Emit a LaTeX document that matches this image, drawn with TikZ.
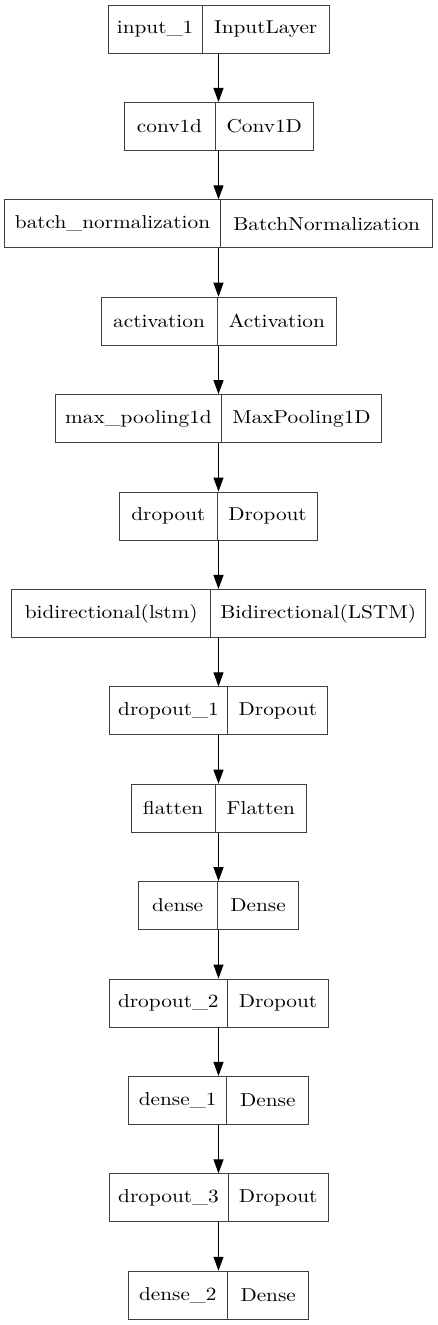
\documentclass[tikz,border=0pt]{standalone}
\usepackage{fontspec}
\usepackage{tikz}
\usetikzlibrary{positioning,arrows.meta}
\newfontfamily\layerfont{lmroman10-regular.otf}[FakeStretch=1.14]
\tikzstyle{record} = [rectangle, minimum height=36pt, inner sep=0pt, draw=black!75, line width=0.7pt]
\tikzstyle{layer-name} = [rectangle, minimum height=36pt, inner sep=0pt, text centered, draw=black!75, line width=0.7pt, font=\layerfont\fontsize{14pt}{17pt}\selectfont]
\tikzstyle{layer-class} = [rectangle, minimum height=36pt, inner sep=0pt, text centered, font=\layerfont\fontsize{14pt}{17pt}\selectfont]
\tikzstyle{arrow} = [->, >={Triangle[length=10.5pt,width=7.5pt]}, line width=0.8pt, draw=black]
\begin{document}
\begin{tikzpicture}[node distance=73.05pt]
        \useasboundingbox (0pt,0pt) rectangle (327.75pt,-993.75pt);
        \node (input-1) [record, minimum width=165.75pt] at (163.875pt,-21.75pt) {};
        \node (conv1d) [record, minimum width=141.75pt, below of=input-1] {};
        \node (batch-normalization) [record, minimum width=321pt, below of=conv1d] {};
        \node (activation) [record, minimum width=176.25pt, below of=batch-normalization] {};
        \node (max-pooling1d) [record, minimum width=244.2pt, below of=activation] {};
        \node (dropout) [record, minimum width=148.5pt, below of=max-pooling1d] {};
        \node (bidirectional-lstm) [record, minimum width=310.2pt, below of=dropout] {};
        \node (dropout-1) [record, minimum width=163.8pt, below of=bidirectional-lstm] {};
        \node (flatten) [record, minimum width=131.25pt, below of=dropout-1] {};
        \node (dense) [record, minimum width=120.2pt, below of=flatten] {};
        \node (dropout-2) [record, minimum width=164.25pt, below of=dense] {};
        \node (dense-1) [record, minimum width=135pt, below of=dropout-2] {};
        \node (dropout-3) [record, minimum width=164.25pt, below of=dense-1] {};
        \node (dense-2) [record, minimum width=135.3pt, below of=dropout-3] {};
        
        \node (input-1-name) [layer-name, minimum width=70.5pt, right=0pt of input-1.west] {input\_1};
        \node (input-1-class) [layer-class, minimum width=95.25pt, left=0pt of input-1.east] {InputLayer};
        \node (conv1d-name) [layer-name, minimum width=68.25pt, right=0pt of conv1d.west] {conv1d};
        \node (conv1d-class) [layer-class, minimum width=73.5pt, left=0pt of conv1d.east] {Conv1D};
        \node (batch-normalization-name) [layer-name, minimum width=162pt, right=0pt of batch-normalization.west] {batch\_normalization};
        \node (batch-normalization-class) [layer-class, minimum width=159pt, left=0pt of batch-normalization.east] {BatchNormalization};
        \node (activation-name) [layer-name, minimum width=87pt, right=0pt of activation.west] {activation};
        \node (activation-class) [layer-class, minimum width=89.25pt, left=0pt of activation.east] {Activation};
        \node (max-pooling1d-name) [layer-name, minimum width=124.2pt, right=0pt of max-pooling1d.west] {max\_pooling1d};
        \node (max-pooling1d-class) [layer-class, minimum width=120pt, left=0pt of max-pooling1d.east] {MaxPooling1D};
        \node (dropout-name) [layer-name, minimum width=73.3pt, right=0pt of dropout.west] {dropout};
        \node (dropout-class) [layer-class, minimum width=75.2pt, left=0pt of dropout.east] {Dropout};
        \node (bidirectional-lstm-name) [layer-name, minimum width=149.25pt, right=0pt of bidirectional-lstm.west] {bidirectional(lstm)};
        \node (bidirectional-lstm-class) [layer-class, minimum width=160.95pt, left=0pt of bidirectional-lstm.east] {Bidirectional(LSTM)};
        \node (dropout-1-name) [layer-name, minimum width=88.8pt, right=0pt of dropout-1.west] {dropout\_1};
        \node (dropout-1-class) [layer-class, minimum width=75pt, left=0pt of dropout-1.east] {Dropout};
        \node (flatten-name) [layer-name, minimum width=63.2pt, right=0pt of flatten.west] {flatten};
        \node (flatten-class) [layer-class, minimum width=68.05pt, left=0pt of flatten.east] {Flatten};
        \node (dense-name) [layer-name, minimum width=59pt, right=0pt of dense.west] {dense};
        \node (dense-class) [layer-class, minimum width=61.2pt, left=0pt of dense.east] {Dense};
        \node (dropout-2-name) [layer-name, minimum width=89pt, right=0pt of dropout-2.west] {dropout\_2};
        \node (dropout-2-class) [layer-class, minimum width=75.25pt, left=0pt of dropout-2.east] {Dropout};
        \node (dense-1-name) [layer-name, minimum width=73.7pt, right=0pt of dense-1.west] {dense\_1};
        \node (dense-1-class) [layer-class, minimum width=61.3pt, left=0pt of dense-1.east] {Dense};
        \node (dropout-3-name) [layer-name, minimum width=89.25pt, right=0pt of dropout-3.west] {dropout\_3};
        \node (dropout-3-class) [layer-class, minimum width=75pt, left=0pt of dropout-3.east] {Dropout};
        \node (dense-2-name) [layer-name, minimum width=74.25pt, right=0pt of dense-2.west] {dense\_2};
        \node (dense-2-class) [layer-class, minimum width=61.05pt, left=0pt of dense-2.east] {Dense};
        
        \draw [arrow] (input-1) -- (conv1d);
        \draw [arrow] (conv1d) -- (batch-normalization);
        \draw [arrow] (batch-normalization) -- (activation);
        \draw [arrow] (activation) -- (max-pooling1d);
        \draw [arrow] (max-pooling1d) -- (dropout);
        \draw [arrow] (dropout) -- (bidirectional-lstm);
        \draw [arrow] (bidirectional-lstm) -- (dropout-1);
        \draw [arrow] (dropout-1) -- (flatten);
        \draw [arrow] (flatten) -- (dense);
        \draw [arrow] (dense) -- (dropout-2);
        \draw [arrow] (dropout-2) -- (dense-1);
        \draw [arrow] (dense-1) -- (dropout-3);
        \draw [arrow] (dropout-3) -- (dense-2);
    \end{tikzpicture}
\end{document}
